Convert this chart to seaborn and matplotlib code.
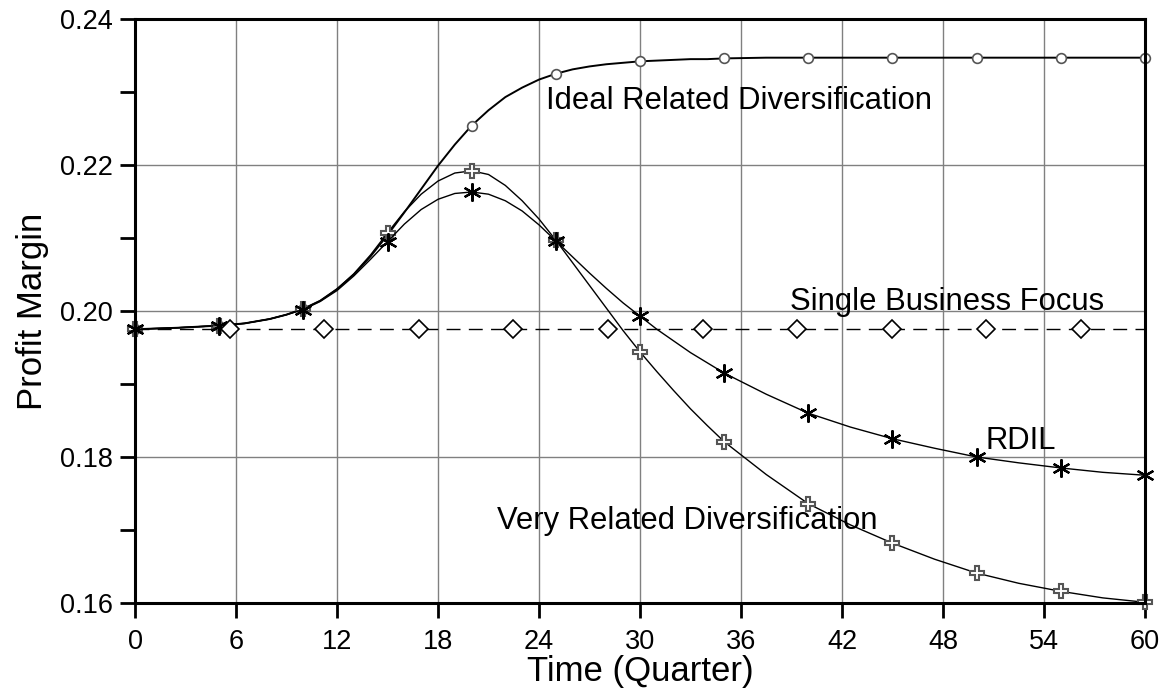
import matplotlib
matplotlib.use("Agg")
import matplotlib.pyplot as plt
import seaborn as sns
import pandas as pd

# time axis (quarters) for the simulated curves
t = [0, 2.5, 5, 6.5, 8, 9, 10, 11, 12, 13, 14, 15, 16, 17, 18, 19, 20, 21, 22,
     23, 24, 25, 26, 27, 28, 29, 30, 31, 32, 33, 34, 35, 37.5, 40, 42.5, 45,
     47.5, 50, 52.5, 55, 57.5, 60]

ideal = [0.1975, 0.1977, 0.1980, 0.1983, 0.1989, 0.1995,
         0.2003, 0.2014, 0.2030, 0.2050, 0.2075, 0.2104, 0.2135, 0.2167, 0.2199,
         0.2228, 0.2254, 0.2275, 0.2293, 0.2306, 0.2317, 0.2325, 0.2331, 0.2335,
         0.2338, 0.2340, 0.2342, 0.2343, 0.2344, 0.2345, 0.2345, 0.2346,
         0.2347, 0.2347, 0.2347, 0.2347, 0.2347, 0.2347, 0.2347, 0.2347, 0.2347,
         0.2347]

very_related = [0.1975, 0.1977, 0.1980, 0.1983, 0.1989, 0.1995,
                0.2003, 0.2014, 0.2030, 0.2051, 0.2077, 0.2107, 0.2136, 0.2160,
                0.2178, 0.2189, 0.2192, 0.2187, 0.2172, 0.2151, 0.2126, 0.2097,
                0.2066, 0.2035, 0.2004, 0.1973, 0.1944, 0.1917, 0.1891, 0.1866,
                0.1843, 0.1821,
                0.1776, 0.1736, 0.1707, 0.1682, 0.1660, 0.1641, 0.1627, 0.1616,
                0.1607, 0.1601]

rdil = [0.1975, 0.1977, 0.1980, 0.1983, 0.1989, 0.1995,
        0.2002, 0.2013, 0.2028, 0.2048, 0.2071, 0.2095, 0.2119, 0.2139, 0.2153,
        0.2161, 0.2163, 0.2160, 0.2151, 0.2137, 0.2118, 0.2096, 0.2074, 0.2052,
        0.2031, 0.2011, 0.1993, 0.1975, 0.1959, 0.1943, 0.1929, 0.1915,
        0.1886, 0.1860, 0.1841, 0.1825, 0.1812, 0.1800, 0.1792, 0.1785, 0.1779,
        0.1775]

single_t = [0, 60]
single = [0.1975, 0.1975]
single_marker_t = [5.62, 11.24, 16.86, 22.48, 28.1, 33.72, 39.34, 44.96, 50.58, 56.2]
single_marker_y = [0.1975] * len(single_marker_t)

x_ticks = [0, 6, 12, 18, 24, 30, 36, 42, 48, 54, 60]
y_ticks = [0.16, 0.18, 0.20, 0.22, 0.24]
y_minor = [0.17, 0.19, 0.21, 0.23]

df = pd.DataFrame({"t": t, "ideal": ideal, "very": very_related, "rdil": rdil})
every5 = [i for i, v in enumerate(t) if v % 5 == 0]

sns.set_style("white")
plt.rcParams["font.family"] = ["Liberation Sans", "DejaVu Sans"]
plt.rcParams["text.color"] = "black"
plt.rcParams["axes.labelcolor"] = "black"
plt.rcParams["xtick.color"] = "black"
plt.rcParams["ytick.color"] = "black"

fig = plt.figure(figsize=(11.7, 6.98), dpi=100)
ax = fig.add_axes([0.1154, 0.1361, 0.8632, 0.8367])

ax.grid(True, color="#808080", linewidth=1.0)
ax.set_axisbelow(True)

sns.lineplot(data=df, x="t", y="ideal", ax=ax, color="black", linewidth=1.4,
             marker="o", markevery=every5, markersize=7, markerfacecolor="white",
             markeredgecolor="#555555", markeredgewidth=1.2, clip_on=False)
sns.lineplot(data=df, x="t", y="very", ax=ax, color="black", linewidth=1.0,
             marker="P", markevery=every5, markersize=10, markerfacecolor="white",
             markeredgecolor="#555555", markeredgewidth=1.5, clip_on=False)
sns.lineplot(data=df, x="t", y="rdil", ax=ax, color="black", linewidth=1.0,
             marker=(6, 2, 0), markevery=every5, markersize=13,
             markeredgecolor="black", markeredgewidth=1.6, clip_on=False)
sns.lineplot(x=single_t, y=single, ax=ax, color="black", linewidth=1.0,
             dashes=(10, 6))
sns.lineplot(x=single_marker_t, y=single_marker_y, ax=ax, linestyle="none",
             marker="D", markersize=9, markerfacecolor="white",
             markeredgecolor="black", markeredgewidth=1.2)

ax.set_xlim(0, 60)
ax.set_ylim(0.16, 0.24)
ax.set_xticks(x_ticks)
ax.set_yticks(y_ticks)
ax.set_yticks(y_minor, minor=True)
ax.set_yticklabels([f"{v:.2f}" for v in y_ticks])
ax.tick_params(axis="both", which="both", direction="out", length=11, width=2,
               color="black", labelsize=19.5, left=True, bottom=True)
ax.tick_params(axis="x", pad=8)
ax.tick_params(axis="y", pad=5)
ax.grid(False, which="minor")
for s in ax.spines.values():
    s.set_color("black")
    s.set_linewidth(2.2)

ax.set_xlabel("Time (Quarter)", fontsize=25, labelpad=0)
ax.set_ylabel("Profit Margin", fontsize=25, labelpad=8)

ax.text(24.4, 0.2287, "Ideal Related Diversification", fontsize=22.3, va="center")
ax.text(38.9, 0.2012, "Single Business Focus", fontsize=22.3, va="center")
ax.text(50.5, 0.1822, "RDIL", fontsize=22.3, va="center")
ax.text(21.5, 0.1713, "Very Related Diversification", fontsize=22.3, va="center")

fig.savefig("out.png", dpi=100)
